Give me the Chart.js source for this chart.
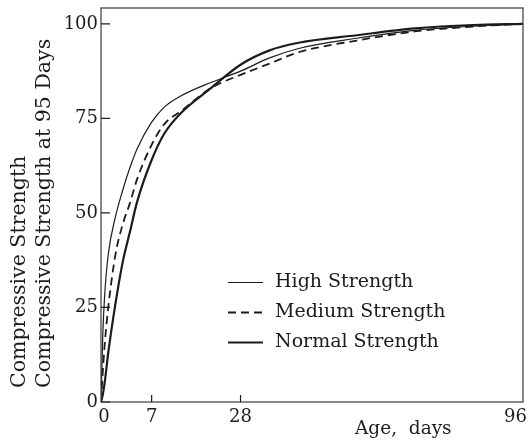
<!DOCTYPE html>
<html>
<head>
<meta charset="utf-8">
<script src="https://cdn.jsdelivr.net/npm/chart.js@4.4.1/dist/chart.umd.min.js"></script>
<style>
  html, body { margin: 0; padding: 0; background: #fff; }
  canvas { display: block; }
</style>
</head>
<body>
<canvas id="strengthChart" width="529" height="444"></canvas>
<script>
// age in days, shared by all three curves
const DAYS = [0, 0.25, 0.5, 1, 2, 3, 4, 5, 7, 10, 14, 21, 28, 35, 42, 56, 70, 84, 96];

// strength as % of strength at 95 days
const HIGH   = [0, 18, 28, 39, 49, 56, 62, 67, 74, 78, 81, 84.5, 87.5, 91, 93.5, 96.2, 98.3, 99.4, 100];
const MEDIUM = [0, 8, 15, 25, 39, 47, 52.6, 59, 68, 73.5, 77, 83, 86.5, 89.5, 92.5, 95.6, 98, 99.3, 100];
const NORMAL = [0, 2, 5, 13, 26, 37, 45, 53, 64, 71, 76.5, 83, 89.2, 93, 95, 97, 98.8, 99.7, 100];

const SERIES_NAMES = ["High Strength", "Medium Strength", "Normal Strength"];

const X_TICKS = [0, 7, 28, 96];
const Y_TICKS = [0, 25, 50, 75, 100];

// the printed age axis is stretched near the origin
const X_BREAKS = { values: [0, 7, 28, 96], fractions: [0, 0.12, 0.3306, 1] };

const FONT = '"DejaVu Serif", "Liberation Serif", serif';
const INK = "#1c1c1c";

function _interp(v, from, to) {
  if (v <= from[0]) return to[0] + (v - from[0]) * (to[1] - to[0]) / (from[1] - from[0]);
  for (let i = 1; i < from.length; i++) {
    if (v <= from[i] || i === from.length - 1) {
      const t = (v - from[i - 1]) / (from[i] - from[i - 1]);
      return to[i - 1] + t * (to[i] - to[i - 1]);
    }
  }
}

class BrokenScale extends Chart.LinearScale {
  getPixelForValue(value) {
    return this.getPixelForDecimal(_interp(value, X_BREAKS.values, X_BREAKS.fractions));
  }
  getValueForPixel(pixel) {
    return _interp(this.getDecimalForPixel(pixel), X_BREAKS.fractions, X_BREAKS.values);
  }
}
BrokenScale.id = "broken";
BrokenScale.defaults = {};
Chart.register(BrokenScale);

const pts = (vals) => DAYS.map((d, i) => ({ x: d, y: vals[i] }));

// frame, inward ticks, titles and legend
const decorPlugin = {
  id: "decor",
  afterDraw(chart) {
    const { ctx, chartArea: a, scales } = chart;
    const xs = scales.x, ys = scales.y;
    ctx.save();

    ctx.strokeStyle = "#3a3a3a";
    ctx.lineWidth = 1.2;
    ctx.strokeRect(a.left, a.top, a.right - a.left, a.bottom - a.top);

    ctx.strokeStyle = INK;
    ctx.beginPath();
    Y_TICKS.forEach((v) => {
      const y = ys.getPixelForValue(v);
      ctx.moveTo(a.left, y);
      ctx.lineTo(a.left + 9, y);
    });
    X_TICKS.forEach((v) => {
      if (v === xs.min || v === xs.max) return;
      const x = xs.getPixelForValue(v);
      ctx.moveTo(x, a.bottom);
      ctx.lineTo(x, a.bottom - 7);
    });
    ctx.stroke();

    ctx.fillStyle = INK;
    ctx.font = "18px " + FONT;
    ctx.textBaseline = "middle";
    ctx.textAlign = "center";
    X_TICKS.forEach((v) => {
      let x = xs.getPixelForValue(v);
      const w = ctx.measureText(String(v)).width;
      x = Math.min(Math.max(x, w / 2 + 2), chart.width - w / 2 - 2);
      ctx.fillText(String(v), x + (v === 0 ? 3 : 0), a.bottom + 15);
    });

    ctx.textAlign = "left";
    ctx.font = "18.5px " + FONT;
    ctx.fillText("Age,  days", 355, 429);

    ctx.save();
    ctx.font = "20.5px " + FONT;
    ctx.translate(20, 388);
    ctx.rotate(-Math.PI / 2);
    ctx.fillText("Compressive Strength", 0, 0);
    ctx.fillText("Compressive Strength at 95 Days", 0, 25);
    ctx.restore();

    // legend
    ctx.font = "19px " + FONT;
    chart.data.datasets.forEach((ds, i) => {
      const y = 282.5 + i * 30;
      ctx.strokeStyle = ds.borderColor;
      ctx.lineWidth = ds.borderWidth;
      ctx.setLineDash(ds.borderDash || []);
      ctx.beginPath();
      ctx.moveTo(228, y);
      ctx.lineTo(263, y);
      ctx.stroke();
      ctx.setLineDash([]);
      ctx.fillText(ds.label, 275, y);
    });

    ctx.restore();
  },
};

new Chart(document.getElementById("strengthChart"), {
  type: "line",
  data: {
    datasets: [
      {
        label: SERIES_NAMES[0],
        data: pts(HIGH),
        borderColor: INK,
        borderWidth: 1.2,
      },
      {
        label: SERIES_NAMES[1],
        data: pts(MEDIUM),
        borderColor: INK,
        borderWidth: 1.8,
        borderDash: [8, 5],
      },
      {
        label: SERIES_NAMES[2],
        data: pts(NORMAL),
        borderColor: INK,
        borderWidth: 2.2,
      },
    ],
  },
  options: {
    responsive: false,
    animation: false,
    devicePixelRatio: 1,
    layout: { padding: { top: 8, right: 6, left: 0, bottom: 0 } },
    elements: {
      point: { radius: 0 },
      line: { cubicInterpolationMode: "monotone", fill: false },
    },
    plugins: { legend: { display: false }, tooltip: { enabled: false } },
    scales: {
      x: {
        type: "broken",
        min: 0,
        max: 96,
        afterBuildTicks: (s) => { s.ticks = X_TICKS.map((v) => ({ value: v })); },
        afterFit: (s) => { s.height = 42; s.paddingLeft = 0; s.paddingRight = 0; },
        ticks: { display: false },
        grid: { display: false, drawTicks: false },
        border: { display: false },
      },
      y: {
        min: 0,
        max: 104.2,
        afterBuildTicks: (s) => { s.ticks = Y_TICKS.map((v) => ({ value: v })); },
        afterFit: (s) => { s.width = 101; s.paddingTop = 0; s.paddingBottom = 0; },
        ticks: { color: INK, padding: 3, font: { family: FONT, size: 18 } },
        grid: { display: false, drawTicks: false },
        border: { display: false },
      },
    },
  },
  plugins: [decorPlugin],
});
</script>
</body>
</html>
